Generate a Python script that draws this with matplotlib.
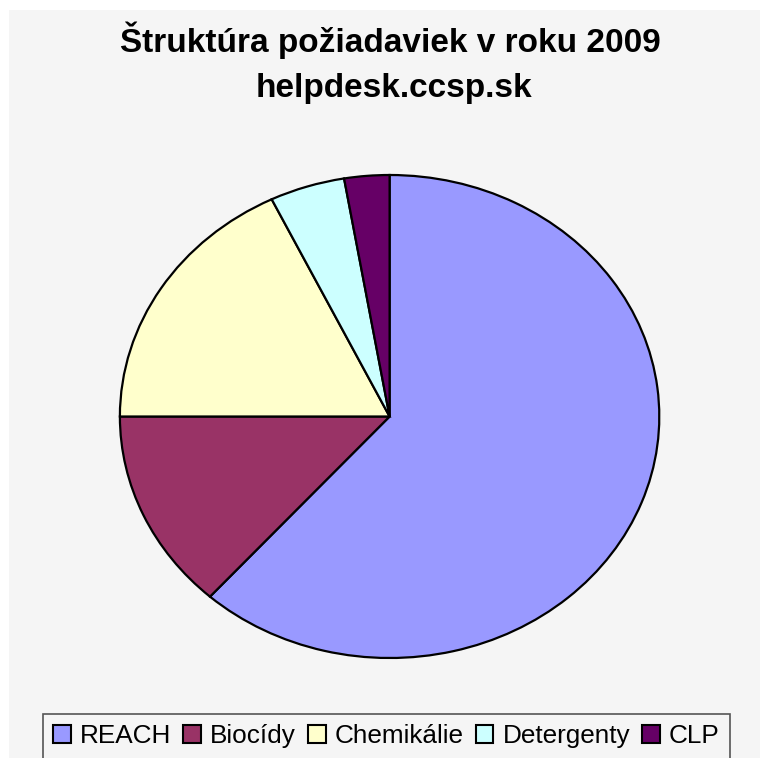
import matplotlib.pyplot as plt
from matplotlib.patches import Rectangle

# data (share of requests, %)
labels = ['REACH', 'Biocídy', 'Chemikálie', 'Detergenty', 'CLP']
values = [61.6, 13.4, 17.8, 4.5, 2.7]
colors = ['#9999FF', '#993366', '#FFFFCC', '#CCFFFF', '#660066']

title1 = 'Štruktúra požiadaviek v roku 2009'
title2 = 'helpdesk.ccsp.sk'

plt.rcParams['font.family'] = ['Liberation Sans', 'DejaVu Sans']

W, H = 760, 758
fig = plt.figure(figsize=(W / 100, H / 100), dpi=100, facecolor='white')

# light grey chart area (thin white strip on top and left)
fig.patches.append(Rectangle((9 / W, 0), 1, 1 - 10 / H, transform=fig.transFigure,
                             facecolor='#F5F5F5', edgecolor='none', zorder=-1))

# pie is slightly elliptical in the reference
ax = fig.add_axes([119.9 / W, 1 - 658 / H, 539.4 / W, 483 / H])
ax.set_zorder(1)
wedges, _ = ax.pie(values, colors=colors, startangle=90, counterclock=False,
                   wedgeprops=dict(edgecolor='black', linewidth=1.6))
ax.set_aspect('auto')
ax.set_xlim(-1, 1)
ax.set_ylim(-1, 1)
ax.axis('off')

fig.text(390 / W, 1 - 52 / H, title1, ha='center', va='baseline',
         fontsize=24, fontweight='bold')
fig.text(394 / W, 1 - 97 / H, title2, ha='center', va='baseline',
         fontsize=24, fontweight='bold')

handles = [Rectangle((0, 0), 1, 1, facecolor=c, edgecolor='black', linewidth=1.5)
           for c in colors]
leg = fig.legend(handles, labels, loc='upper left',
                 bbox_to_anchor=(43 / W, 1 - 714 / H), ncol=5,
                 fontsize=18.8, frameon=True, fancybox=False,
                 handlelength=0.68, handleheight=0.68, handletextpad=0.35,
                 columnspacing=0.45, borderpad=0.4, borderaxespad=0)
leg.get_frame().set_edgecolor('#555555')
leg.get_frame().set_linewidth(1.2)
leg.get_frame().set_facecolor('#F5F5F5')
leg.get_frame().set_alpha(1)

fig.savefig('out.png', dpi=100, facecolor=fig.get_facecolor())
